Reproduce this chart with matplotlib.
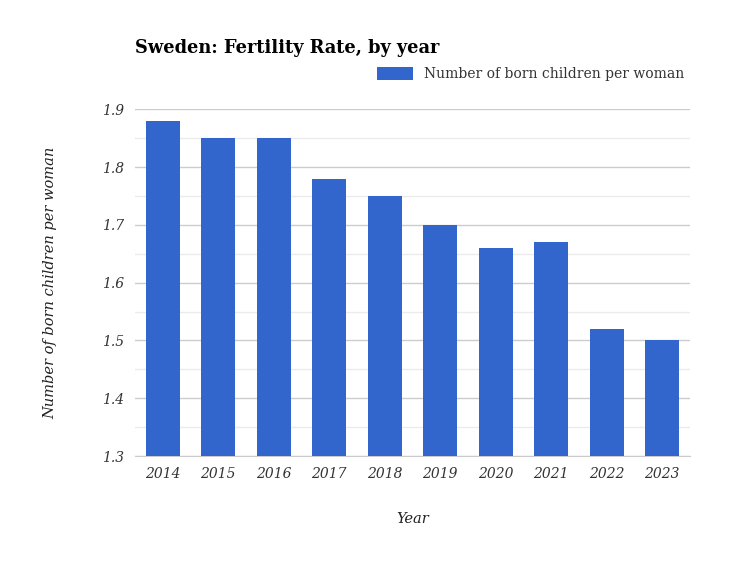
import matplotlib.pyplot as plt
from matplotlib.ticker import MultipleLocator

years = ['2014', '2015', '2016', '2017', '2018', '2019', '2020', '2021', '2022', '2023']
rates = [1.88, 1.85, 1.85, 1.78, 1.75, 1.70, 1.66, 1.67, 1.52, 1.50]

plt.rcParams['font.family'] = 'DejaVu Serif'

fig = plt.figure(figsize=(7.5, 5.63), dpi=100)
ax = fig.add_axes([0.18, 0.19, 0.74, 0.616])

ax.bar(years, rates, width=0.62, color='#3366cc', zorder=3,
       label='Number of born children per woman')

ax.set_ylim(1.3, 1.9)
ax.set_xlim(-0.5, len(years) - 0.5)
ax.yaxis.set_major_locator(MultipleLocator(0.1))
ax.yaxis.set_minor_locator(MultipleLocator(0.05))
ax.grid(axis='y', which='major', color='#cccccc', linewidth=1, zorder=0)
ax.grid(axis='y', which='minor', color='#ebebeb', linewidth=1, zorder=0)
for s in ['top', 'right', 'left']:
    ax.spines[s].set_visible(False)
ax.spines['bottom'].set_color('#cccccc')
ax.tick_params(axis='both', which='both', length=0, labelsize=10, colors='#333333', pad=8)
for lbl in ax.get_xticklabels() + ax.get_yticklabels():
    lbl.set_fontstyle('italic')
ax.yaxis.set_major_formatter(lambda v, p: f'{v:.1f}')

ax.set_xlabel('Year', fontsize=10.5, fontstyle='italic', color='#222222', labelpad=22)
ax.set_ylabel('Number of born children per woman', fontsize=10.5, fontstyle='italic',
              color='#222222', labelpad=32)

fig.text(0.18, 0.915, 'Sweden: Fertility Rate, by year', fontsize=12.8,
         fontweight='heavy', color='#000000', va='center')
ax.legend(loc='lower right', bbox_to_anchor=(1.0, 1.065), frameon=False,
          fontsize=10, handlelength=2.6, handleheight=1.1, borderaxespad=0,
          labelcolor='#333333')

fig.savefig('out.png', dpi=100)
